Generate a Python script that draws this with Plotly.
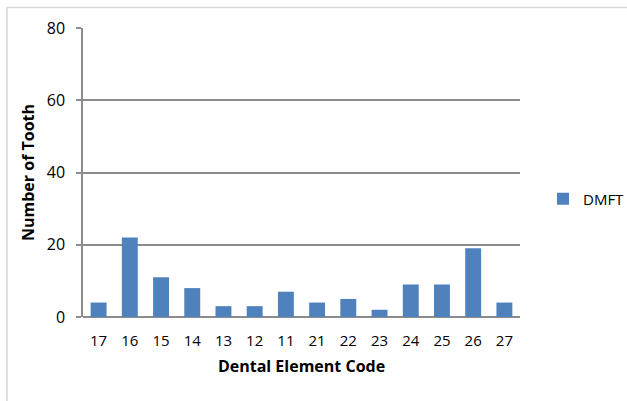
import plotly.graph_objects as go

codes = ["17", "16", "15", "14", "13", "12", "11", "21", "22", "23", "24", "25", "26", "27"]
dmft = [4, 22, 11, 8, 3, 3, 7, 4, 5, 2, 9, 9, 19, 4]
y_ticks = [0, 20, 40, 60, 80]

W, H = 627, 401
L, R, T, B = 83, 107, 27.5, 83.5
pw = W - L - R
ph = H - T - B

def px(xp):
    return (xp - L) / pw

def py(yp):
    return (H - B - yp) / ph

font_family = "Open Sans, Lato, Liberation Sans, sans-serif"

fig = go.Figure()
fig.add_trace(go.Bar(
    x=codes, y=dmft, name="DMFT",
    marker=dict(color="#4F81BD", line=dict(width=0)),
))

fig.update_layout(
    width=W, height=H,
    margin=dict(l=L, r=R, t=T, b=B, autoexpand=False),
    paper_bgcolor="white", plot_bgcolor="white",
    bargap=0.49,
    font=dict(family=font_family, size=15, color="#000000"),
    showlegend=True,
    legend=dict(x=px(543), y=py(199), xanchor="left", yanchor="middle",
                font=dict(size=15), itemwidth=30, bgcolor="rgba(0,0,0,0)"),
    xaxis=dict(
        type="category", showgrid=False, showline=False, ticks="", automargin=False,
        tickfont=dict(size=15), ticklabelstandoff=13,
        title=dict(text="<b>Dental Element Code</b>", font=dict(size=16), standoff=11),
    ),
    yaxis=dict(
        range=[0, 80], tickvals=y_ticks, showgrid=True, gridcolor="#8c8c8c", gridwidth=1.5,
        showline=True, linecolor="#8c8c8c", linewidth=1.5, automargin=False,
        ticks="outside", ticklen=5, tickcolor="#8c8c8c", tickwidth=1.5,
        zeroline=True, zerolinecolor="#8c8c8c", zerolinewidth=1.5,
        tickfont=dict(size=16), ticklabelstandoff=8,
        title=dict(text="<b>Number of Tooth</b>", font=dict(size=16), standoff=8),
    ),
    shapes=[dict(type="rect", xref="paper", yref="paper",
                 x0=px(7), x1=px(640), y0=py(410), y1=py(7),
                 line=dict(color="#d9d9d9", width=1.5), fillcolor="rgba(0,0,0,0)", layer="below")],
)

fig.write_html("out.html", config={"displayModeBar": False},
               post_script="document.body.style.margin='0';document.body.style.overflow='hidden';")
